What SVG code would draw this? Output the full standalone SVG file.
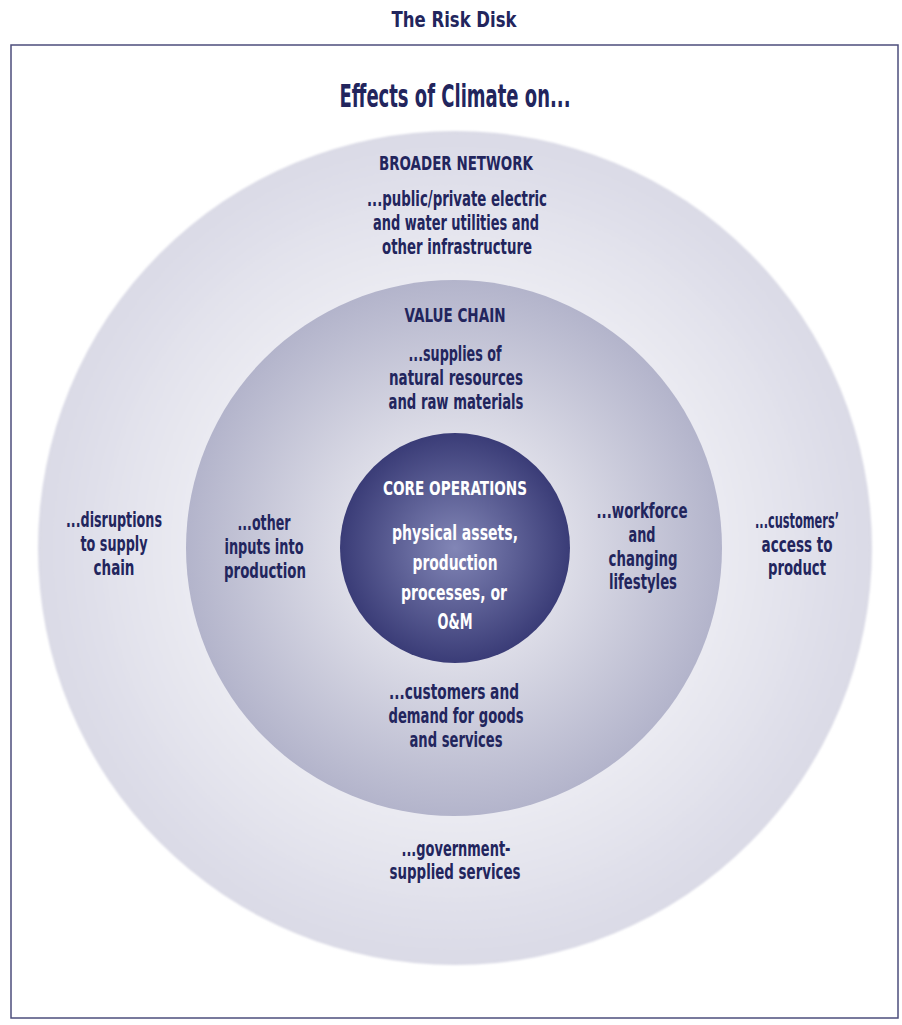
<svg xmlns="http://www.w3.org/2000/svg" width="902" height="1025" viewBox="0 0 902 1025">
<defs>
<radialGradient id="gOuter" cx="0.5" cy="0.5" r="0.5">
<stop offset="0.6" stop-color="#ececf3"/>
<stop offset="1" stop-color="#dadae6"/>
</radialGradient>
<radialGradient id="gMid" cx="0.5" cy="0.5" r="0.5">
<stop offset="0.35" stop-color="#e2e2eb"/>
<stop offset="1" stop-color="#b3b4cb"/>
</radialGradient>
<radialGradient id="gCore" cx="0.5" cy="0.5" r="0.5">
<stop offset="0" stop-color="#8286b6"/>
<stop offset="1" stop-color="#3a3c77"/>
</radialGradient>
<filter id="soft" x="-5%" y="-5%" width="110%" height="110%">
<feGaussianBlur stdDeviation="1.2"/>
</filter>
</defs>
<style>
text{font-family:"Liberation Sans Narrow","DejaVu Sans Condensed","Roboto Condensed",sans-serif;font-weight:bold;font-stretch:condensed;text-anchor:middle;fill:#22255d}
.t{font-size:20.5px}
.h{font-size:20px}
.w{fill:#ffffff}
</style>
<rect width="902" height="1025" fill="#ffffff"/>
<text x="454" y="27" style="font-size:21px" textLength="125" lengthAdjust="spacingAndGlyphs">The Risk Disk</text>
<rect x="11" y="45" width="887" height="973" fill="none" stroke="#4c4e7c" stroke-width="1.5"/>
<text x="455" y="107" style="font-size:32px" textLength="231" lengthAdjust="spacingAndGlyphs">Effects of Climate on...</text>

<g id="broader-network">
<circle cx="455" cy="548" r="417" fill="url(#gOuter)" filter="url(#soft)"/>
<text class="h" x="456" y="170" textLength="154" lengthAdjust="spacingAndGlyphs">BROADER NETWORK</text>
<text class="t" x="457" y="206" textLength="180" lengthAdjust="spacingAndGlyphs">...public/private electric</text>
<text class="t" x="456" y="230" textLength="166" lengthAdjust="spacingAndGlyphs">and water utilities and</text>
<text class="t" x="457" y="254" textLength="150" lengthAdjust="spacingAndGlyphs">other infrastructure</text>
<text class="t" x="114" y="527" textLength="96" lengthAdjust="spacingAndGlyphs">...disruptions</text>
<text class="t" x="114" y="551" textLength="67" lengthAdjust="spacingAndGlyphs">to supply</text>
<text class="t" x="114" y="575" textLength="41" lengthAdjust="spacingAndGlyphs">chain</text>
<text class="t" x="797" y="528" textLength="84" lengthAdjust="spacingAndGlyphs">...customers’</text>
<text class="t" x="797" y="552" textLength="71" lengthAdjust="spacingAndGlyphs">access to</text>
<text class="t" x="797" y="575" textLength="58" lengthAdjust="spacingAndGlyphs">product</text>
<text class="t" x="456" y="856" textLength="109" lengthAdjust="spacingAndGlyphs">...government-</text>
<text class="t" x="455" y="879" textLength="131" lengthAdjust="spacingAndGlyphs">supplied services</text>
</g>

<g id="value-chain">
<circle cx="454" cy="548" r="268" fill="url(#gMid)"/>
<text class="h" x="455" y="322" textLength="101" lengthAdjust="spacingAndGlyphs">VALUE CHAIN</text>
<text class="t" x="455" y="361" textLength="93" lengthAdjust="spacingAndGlyphs">...supplies of</text>
<text class="t" x="456" y="385" textLength="134" lengthAdjust="spacingAndGlyphs">natural resources</text>
<text class="t" x="456" y="409" textLength="135" lengthAdjust="spacingAndGlyphs">and raw materials</text>
<text class="t" x="264" y="530" textLength="53" lengthAdjust="spacingAndGlyphs">...other</text>
<text class="t" x="264" y="554" textLength="79" lengthAdjust="spacingAndGlyphs">inputs into</text>
<text class="t" x="265" y="578" textLength="82" lengthAdjust="spacingAndGlyphs">production</text>
<text class="t" x="642" y="518" textLength="91" lengthAdjust="spacingAndGlyphs">...workforce</text>
<text class="t" x="642" y="542" textLength="27" lengthAdjust="spacingAndGlyphs">and</text>
<text class="t" x="643" y="566" textLength="69" lengthAdjust="spacingAndGlyphs">changing</text>
<text class="t" x="643" y="589" textLength="68" lengthAdjust="spacingAndGlyphs">lifestyles</text>
<text class="t" x="454" y="699" textLength="130" lengthAdjust="spacingAndGlyphs">...customers and</text>
<text class="t" x="456" y="723" textLength="135" lengthAdjust="spacingAndGlyphs">demand for goods</text>
<text class="t" x="456" y="747" textLength="93" lengthAdjust="spacingAndGlyphs">and services</text>
</g>

<g id="core-operations">
<circle cx="455" cy="548" r="115" fill="url(#gCore)"/>
<text class="h w" x="455" y="495" textLength="144" lengthAdjust="spacingAndGlyphs">CORE OPERATIONS</text>
<text class="t w" x="455" y="540" textLength="126" lengthAdjust="spacingAndGlyphs">physical assets,</text>
<text class="t w" x="455" y="570" textLength="85" lengthAdjust="spacingAndGlyphs">production</text>
<text class="t w" x="454" y="600" textLength="106" lengthAdjust="spacingAndGlyphs">processes, or</text>
<text class="t w" x="455" y="629" textLength="35" lengthAdjust="spacingAndGlyphs">O&amp;M</text>
</g>

<g id="connectors"></g>
</svg>
